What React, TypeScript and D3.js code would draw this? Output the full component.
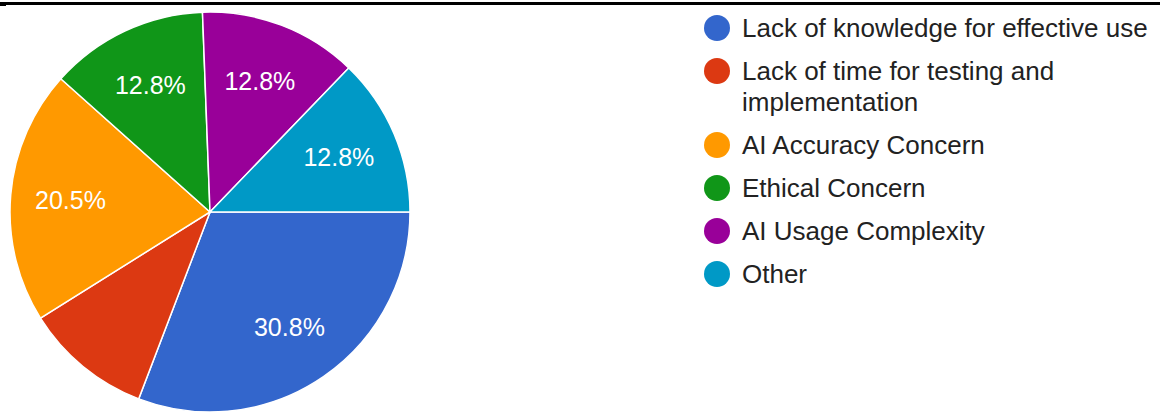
import React from "react";
import * as d3 from "d3";

const categories = [
  "Lack of knowledge for effective use",
  "Lack of time for testing and implementation",
  "AI Accuracy Concern",
  "Ethical Concern",
  "AI Usage Complexity",
  "Other",
];
const values = [30.8, 10.3, 20.5, 12.8, 12.8, 12.8];
const colors = ["#3366cc", "#dc3912", "#ff9900", "#109618", "#990099", "#0099c6"];

const W = 1167;
const H = 416;
const FONT = "Arial, 'Liberation Sans', Helvetica, sans-serif";

function wrapText(text: string, maxW: number, fontSize: number): string[] {
  const canvas = document.createElement("canvas");
  const ctx = canvas.getContext("2d")!;
  ctx.font = `${fontSize}px ${FONT}`;
  const words = text.split(" ");
  const lines: string[] = [];
  let cur = "";
  for (const w of words) {
    const t = cur ? cur + " " + w : w;
    if (ctx.measureText(t).width > maxW && cur) {
      lines.push(cur);
      cur = w;
    } else cur = t;
  }
  if (cur) lines.push(cur);
  return lines;
}

export default function App() {
  const cx = 210, cy = 212, R = 200;
  const pie = d3
    .pie<number>()
    .sort(null)
    .value((d) => d)
    .startAngle(Math.PI / 2)
    .endAngle(Math.PI / 2 + 2 * Math.PI);
  const arcs = pie(values);
  const arc = d3.arc<d3.PieArcDatum<number>>().innerRadius(0).outerRadius(R);
  const labelArc = d3.arc<d3.PieArcDatum<number>>().innerRadius(R * 0.7).outerRadius(R * 0.7);

  const legendX = 717;
  const legendFont = 26;
  const itemGap = 43;
  const lineH = 31;
  let y = 28;
  const legendItems = categories.map((c, i) => {
    const lines = wrapText(c, 425, legendFont);
    const item = { cy: y, lines, color: colors[i] };
    y += (lines.length - 1) * lineH + itemGap;
    return item;
  });

  return (
    <svg
      width={W}
      height={H}
      style={{ position: "absolute", left: 0, top: 0, background: "#fff" }}
      fontFamily={FONT}
    >
      <rect x={0} y={0} width={W} height={H} fill="#fff" />
      <rect x={0} y={2} width={1160} height={3} fill="#000" />
      <rect x={0} y={4} width={6} height={2} fill="#000" />
      <g transform={`translate(${cx},${cy})`}>
        {arcs.map((a, i) => (
          <path key={i} d={arc(a) || ""} fill={colors[i]} stroke="#fff" strokeWidth={1.5} />
        ))}
        {arcs.map((a, i) => {
          if (a.data < 12) return null;
          const [lx, ly] = labelArc.centroid(a);
          return (
            <text
              key={"l" + i}
              x={lx}
              y={ly}
              dy="0.36em"
              textAnchor="middle"
              fill="#fff"
              fontSize={25}
            >
              {a.data.toFixed(1) + "%"}
            </text>
          );
        })}
      </g>
      <g>
        {legendItems.map((it, i) => (
          <g key={i}>
            <circle cx={legendX} cy={it.cy} r={13} fill={it.color} />
            <text x={742} y={it.cy + 9} fontSize={legendFont} fill="#222">
              {it.lines.map((ln, j) => (
                <tspan key={j} x={742} dy={j === 0 ? 0 : lineH}>
                  {ln}
                </tspan>
              ))}
            </text>
          </g>
        ))}
      </g>
    </svg>
  );
}
